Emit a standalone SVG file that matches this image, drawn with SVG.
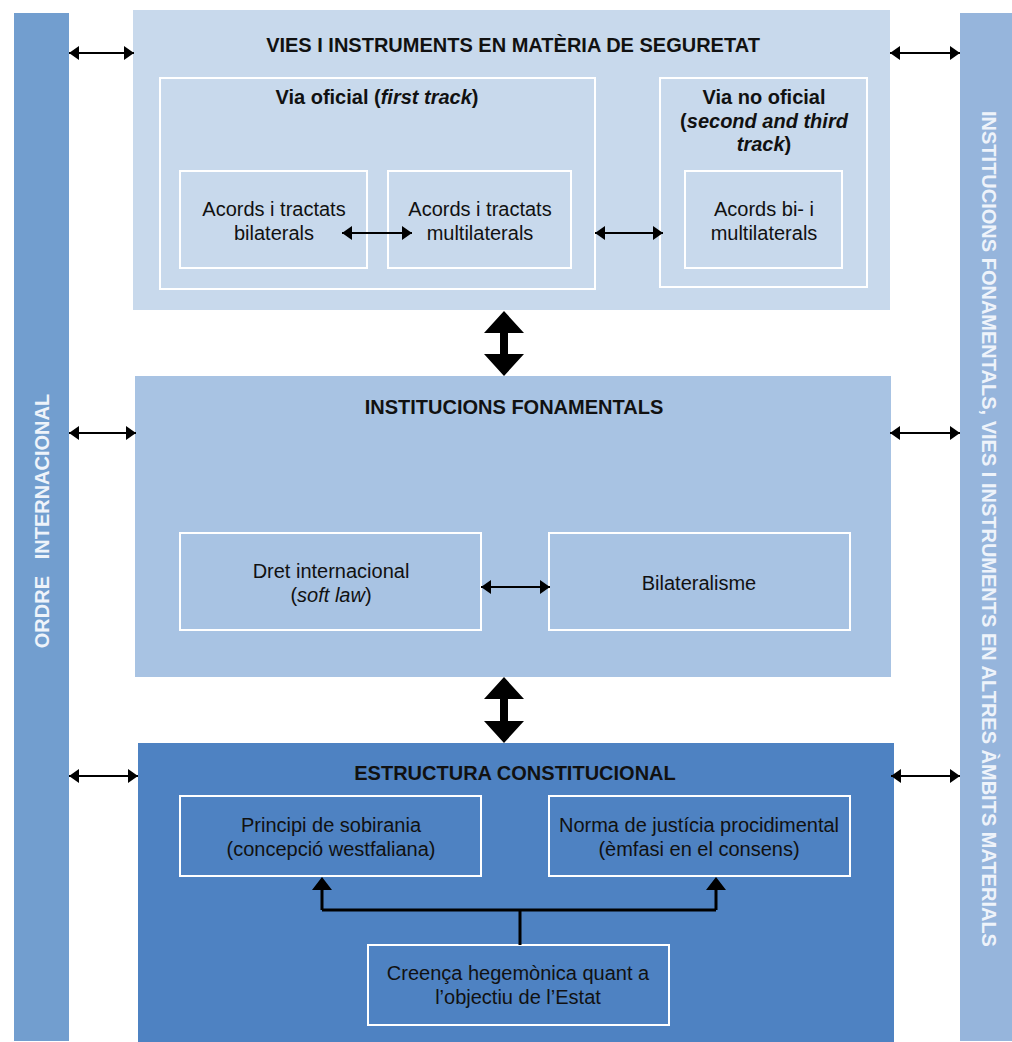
<svg xmlns="http://www.w3.org/2000/svg" width="1012" height="1042" viewBox="0 0 1012 1042">
<style>
.t{font-family:"Liberation Sans",Arial,sans-serif;font-size:20px;fill:#111;text-anchor:middle}
.b{font-weight:bold}
.ib{stroke:#fff;stroke-width:2;fill:none}
.side{font-family:"Liberation Sans",Arial,sans-serif;font-size:20px;font-weight:bold;fill:#eef3fa;text-anchor:middle}
.ln{stroke:#000;stroke-width:2;fill:none}
.thick{stroke:#000;stroke-width:3;fill:none}
</style>
<defs>
<marker id="ah" viewBox="0 0 10 14" refX="10" refY="7" markerWidth="10" markerHeight="14" markerUnits="userSpaceOnUse" orient="auto-start-reverse">
<path d="M0,0 L10,7 L0,14 Z" fill="#000"/>
</marker>
</defs>
<rect width="1012" height="1042" fill="#fff"/>

<g id="ordre">
<rect x="14" y="13" width="55" height="1028" fill="#729ecf"/>
<text class="side" transform="translate(49 521) rotate(-90)" xml:space="preserve">ORDRE   INTERNACIONAL</text>
</g>
<g id="altres">
<rect x="960" y="13" width="55" height="1028" fill="#96b5dc"/>
<text class="side" transform="translate(982 529) rotate(90)">INSTITUCIONS FONAMENTALS, VIES I INSTRUMENTS EN ALTRES ÀMBITS MATERIALS</text>
</g>

<g id="vies">
<rect x="133" y="10" width="757" height="300" fill="#c8d9ec"/>
<text class="t b" x="513" y="52">VIES I INSTRUMENTS EN MATÈRIA DE SEGURETAT</text>
</g>
<g id="via-oficial">
<rect class="ib" x="160" y="78" width="435" height="211"/>
<text class="t b" x="377" y="104">Via oficial (<tspan font-style="italic">first track</tspan>)</text>
</g>
<g id="bilaterals">
<rect class="ib" x="180" y="171" width="187" height="97"/>
<text class="t" x="274" y="216">Acords i tractats</text>
<text class="t" x="274" y="240">bilaterals</text>
</g>
<g id="multilaterals">
<rect class="ib" x="388" y="171" width="183" height="97"/>
<text class="t" x="480" y="216">Acords i tractats</text>
<text class="t" x="480" y="240">multilaterals</text>
</g>
<g id="via-no-oficial">
<rect class="ib" x="660" y="78" width="207" height="209"/>
<text class="t b" x="764" y="104">Via no oficial</text>
<text class="t b" x="764" y="128">(<tspan font-style="italic">second and third</tspan></text>
<text class="t b" x="764" y="151"><tspan font-style="italic">track</tspan>)</text>
</g>
<g id="bi-multi">
<rect class="ib" x="685" y="171" width="157" height="97"/>
<text class="t" x="764" y="216">Acords bi- i</text>
<text class="t" x="764" y="240">multilaterals</text>
</g>

<g id="institucions">
<rect x="135" y="376" width="756" height="301" fill="#a8c3e3"/>
<text class="t b" x="514" y="414">INSTITUCIONS FONAMENTALS</text>
</g>
<g id="dret">
<rect class="ib" x="180" y="533" width="301" height="97"/>
<text class="t" x="331" y="578">Dret internacional</text>
<text class="t" x="331" y="602">(<tspan font-style="italic">soft law</tspan>)</text>
</g>
<g id="bilateralisme">
<rect class="ib" x="549" y="533" width="301" height="97"/>
<text class="t" x="699" y="590">Bilateralisme</text>
</g>

<g id="estructura">
<rect x="138" y="743" width="756" height="299" fill="#4e82c2"/>
<text class="t b" x="515" y="780">ESTRUCTURA CONSTITUCIONAL</text>
</g>
<g id="sobirania">
<rect class="ib" x="180" y="796" width="301" height="80"/>
<text class="t" x="331" y="832">Principi de sobirania</text>
<text class="t" x="331" y="856">(concepció westfaliana)</text>
</g>
<g id="norma">
<rect class="ib" x="549" y="796" width="301" height="80"/>
<text class="t" x="699" y="832">Norma de justícia procidimental</text>
<text class="t" x="699" y="856">(èmfasi en el consens)</text>
</g>
<g id="creenca">
<rect class="ib" x="368" y="945" width="301" height="80"/>
<text class="t" x="518" y="980">Creença hegemònica quant a</text>
<text class="t" x="518" y="1004">l’objectiu de l’Estat</text>
</g>

<g id="connectors">
<line class="ln" x1="69" y1="53" x2="134" y2="53" marker-start="url(#ah)" marker-end="url(#ah)"/>
<line class="ln" x1="69" y1="433" x2="136" y2="433" marker-start="url(#ah)" marker-end="url(#ah)"/>
<line class="ln" x1="69" y1="776" x2="138" y2="776" marker-start="url(#ah)" marker-end="url(#ah)"/>
<line class="ln" x1="890" y1="53" x2="960" y2="53" marker-start="url(#ah)" marker-end="url(#ah)"/>
<line class="ln" x1="890" y1="433" x2="960" y2="433" marker-start="url(#ah)" marker-end="url(#ah)"/>
<line class="ln" x1="891" y1="776" x2="960" y2="776" marker-start="url(#ah)" marker-end="url(#ah)"/>
<line class="ln" x1="342" y1="233" x2="412" y2="233" marker-start="url(#ah)" marker-end="url(#ah)"/>
<line class="ln" x1="595" y1="233" x2="663" y2="233" marker-start="url(#ah)" marker-end="url(#ah)"/>
<line class="ln" x1="481" y1="587" x2="550" y2="587" marker-start="url(#ah)" marker-end="url(#ah)"/>
<path d="M504,311 L524,333 L508,333 L508,354 L524,354 L504,376 L484,354 L500,354 L500,333 L484,333 Z" fill="#000"/>
<path d="M504,677 L524,699 L508,699 L508,721 L524,721 L504,743 L484,721 L500,721 L500,699 L484,699 Z" fill="#000"/>
<path class="thick" d="M520,945 L520,910 M322,910 L716,910 M322,910 L322,888 M716,910 L716,888"/>
<path d="M312,890 L322,877 L332,890 Z M706,890 L716,877 L726,890 Z" fill="#000"/>
</g>
</svg>
